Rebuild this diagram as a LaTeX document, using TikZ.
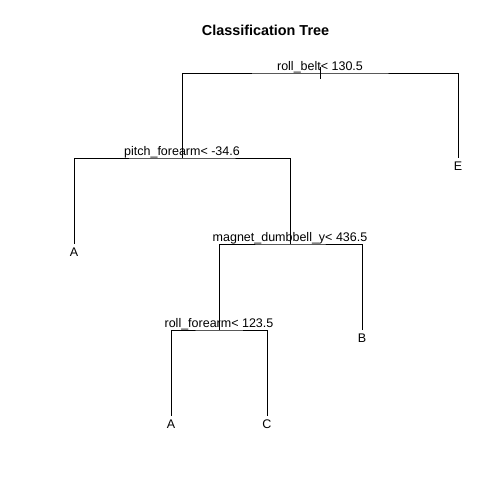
\documentclass[tikz,border=0pt]{standalone}
\usepackage{fontspec}
\setmainfont{Liberation Sans}
\usetikzlibrary{positioning}
\tikzset{
  branch/.style={draw=black,line width=0.9pt},
  splitlbl/.style={anchor=base,inner sep=0pt,font=\fontsize{12.5}{14}\selectfont},
  leaflbl/.style={inner sep=0pt,font=\fontsize{12.5}{14}\selectfont},
  ttl/.style={anchor=base,inner sep=0pt,font=\fontsize{14.4}{17}\selectfont\bfseries}
}

\begin{document}
\begin{tikzpicture}[x=1pt,y=1pt]
  \fill[white] (0,0) rectangle (504,504);
  \useasboundingbox (0,0) rectangle (504,504);

  % split points
  \coordinate (rootsplit) at (320,431);
  \coordinate (pitch) at (182,346);
  \coordinate (magnet) at (290,260);
  \coordinate (rollfa) at (219,174);
  % leaf ends
  \coordinate (leafE) at (458,346);
  \coordinate (leafA) at (74,260);
  \coordinate (leafB) at (362,174);
  \coordinate (leafAA) at (171,88);
  \coordinate (leafC) at (267,88);

  \node[ttl] (title) at (265.5,468) {Classification Tree};

  \node[splitlbl] (rootlbl) at ([yshift=2.5pt]rootsplit) {roll\_belt< 130.5};
  \node[splitlbl] (pitchlbl) at ([yshift=2.5pt]pitch) {pitch\_forearm< -34.6};
  \node[splitlbl] (magnetlbl) at ([yshift=2.5pt]magnet) {magnet\_dumbbell\_y< 436.5};
  \node[splitlbl] (rollfalbl) at ([yshift=2.5pt]rollfa) {roll\_forearm< 123.5};

  \node[leaflbl, below=4pt of leafE] (lblE) {E};
  \node[leaflbl, below=4pt of leafA] (lblA) {A};
  \node[leaflbl, below=4pt of leafB] (lblB) {B};
  \node[leaflbl, below=4pt of leafAA] (lblAA) {A};
  \node[leaflbl, below=4pt of leafC] (lblC) {C};

  \draw[branch] ([yshift=6pt]rootsplit) -- ([yshift=-6pt]rootsplit);
  \draw[branch] (pitch) |- (rootsplit) -| (leafE);
  \draw[branch] (leafA) |- (pitch) -| (magnet);
  \draw[branch] (rollfa) |- (magnet) -| (leafB);
  \draw[branch] (leafAA) |- (rollfa) -| (leafC);
\end{tikzpicture}
\end{document}
